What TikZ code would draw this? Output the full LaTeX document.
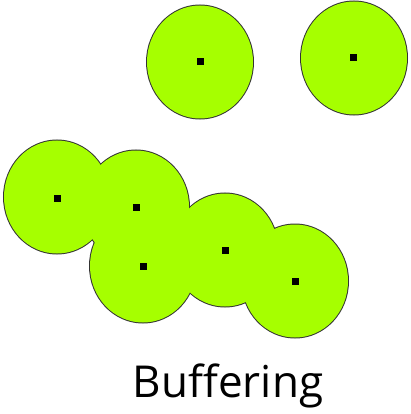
\documentclass[tikz,border=0pt]{standalone}
\usepackage{fontspec}
\setmainfont{Open Sans}
\definecolor{lime}{RGB}{166,255,0}
\begin{document}
\begin{tikzpicture}[x=1pt,y=-1pt,
  buf/.style={x radius=53,y radius=56.5},
  pt/.style={fill=black,inner sep=0pt,minimum size=7pt,draw=none,rectangle}]
\useasboundingbox (0,0) rectangle (410,414);
% outlines
\foreach \p in {(200,62),(354,58),(57,197),(136,207),(143,266),(225,250),(295,281)}
  \draw[line width=2pt,black!80] \p ellipse[buf];
\foreach \p in {(200,62),(354,58),(57,197),(136,207),(143,266),(225,250),(295,281)}
  \fill[lime] \p ellipse[buf];
\node[pt] (p1) at (200,62) {};
\node[pt] (p2) at (353,58) {};
\node[pt] (p3) at (57,198) {};
\node[pt] (p4) at (136,207) {};
\node[pt] (p5) at (143,266) {};
\node[pt] (p6) at (225,250) {};
\node[pt] (p7) at (295,281) {};
\node[anchor=base,font=\fontsize{44}{50}\selectfont,inner sep=0pt] (t) at (228,397) {Buffering};
\end{tikzpicture}
\end{document}
